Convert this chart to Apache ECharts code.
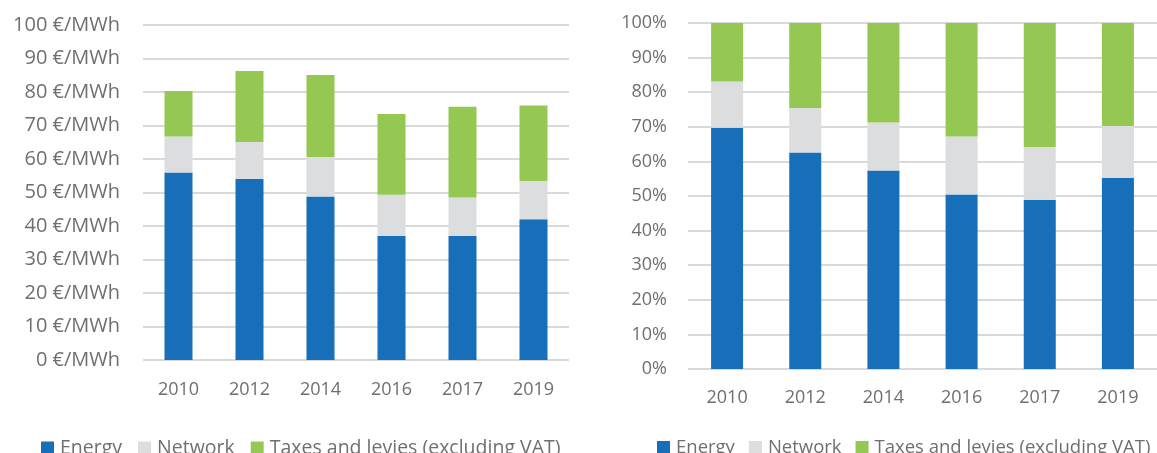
<!DOCTYPE html>
<html>
<head>
<meta charset="utf-8">
<script src="https://cdn.jsdelivr.net/npm/echarts@6/dist/echarts.min.js"></script>
<style>
html,body{margin:0;padding:0;background:#fff;}
#c{width:1157px;height:453px;}
</style>
</head>
<body>
<div id="c"></div>
<script>
const years = ['2010', '2012', '2014', '2016', '2017', '2019'];
const seriesNames = ['Energy', 'Network', 'Taxes and levies (excluding VAT)'];
// €/MWh components
const energy  = [56.0, 54.0, 48.8, 37.0, 37.0, 42.0];
const network = [10.7, 11.1, 11.8, 12.3, 11.5, 11.4];
const taxes   = [13.6, 21.2, 24.5, 24.1, 27.1, 22.6];

const colors = ['#166fb8', '#dcdddf', '#95c853'];
const totals = years.map((_, i) => energy[i] + network[i] + taxes[i]);
const share = arr => arr.map((v, i) => +(v / totals[i] * 100).toFixed(2));

const txt = '#6f6f6f';
const font = '"Open Sans", sans-serif';
const gridLine = { show: true, lineStyle: { color: '#d9d9d9', width: 2 } };

function xAx(gridIndex, margin) {
  return {
    type: 'category', gridIndex, data: years,
    axisLine: { show: false }, axisTick: { show: false },
    axisLabel: { color: txt, fontSize: 18, fontFamily: font, margin }
  };
}
function yAx(gridIndex, fmt, margin, size) {
  return {
    type: 'value', gridIndex, min: 0, max: 100, interval: 10,
    axisLine: { show: false }, axisTick: { show: false },
    splitLine: gridLine,
    axisLabel: { color: txt, fontSize: size, fontFamily: font, margin, formatter: fmt }
  };
}
function bar(name, data, idx, w) {
  return {
    name, type: 'bar', stack: 's' + idx, xAxisIndex: idx, yAxisIndex: idx,
    data, barWidth: w, itemStyle: { color: colors[seriesNames.indexOf(name)] },
    animation: false
  };
}
function legend(left, size, gap) {
  return {
    data: seriesNames, left, top: 433, width: 540, icon: 'rect',
    itemWidth: 13, itemHeight: 13, itemGap: gap,
    textStyle: { color: txt, fontSize: size, fontFamily: font, padding: [0, 0, 0, 1] },
    selectedMode: false
  };
}

const chart = echarts.init(document.getElementById('c'));
chart.setOption({
  animation: false,
  grid: [
    { left: 143, top: 25, width: 426, height: 335 },
    { left: 688, top: 23, width: 472, height: 346 }
  ],
  xAxis: [xAx(0, 21), xAx(1, 20)],
  yAxis: [
    yAx(0, v => v + ' €/MWh', 23, 20),
    yAx(1, v => v + '%', 21, 18)
  ],
  legend: [legend(36, 19.5, 16), legend(652, 18.5, 14)],
  series: [
    bar('Energy', energy, 0, 28),
    bar('Network', network, 0, 28),
    bar('Taxes and levies (excluding VAT)', taxes, 0, 28),
    bar('Energy', share(energy), 1, 32),
    bar('Network', share(network), 1, 32),
    bar('Taxes and levies (excluding VAT)', share(taxes), 1, 32)
  ]
});
</script>
</body>
</html>
